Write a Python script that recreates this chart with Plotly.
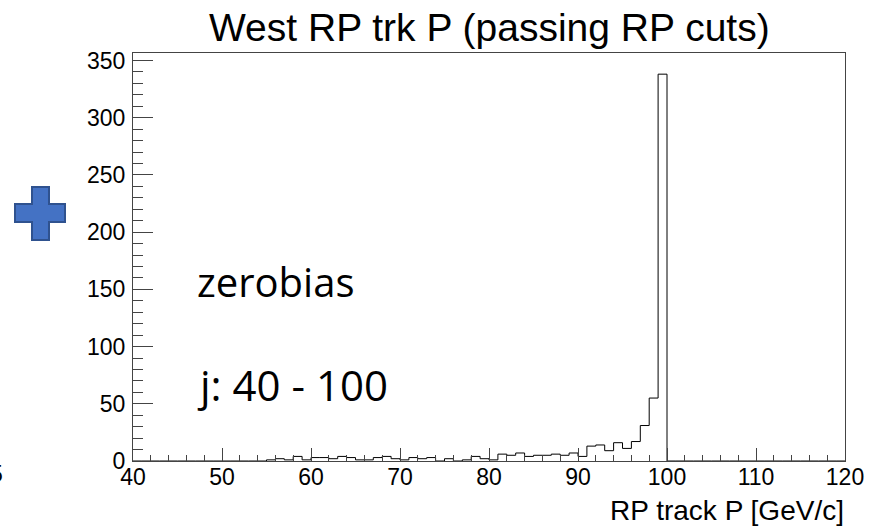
import plotly.graph_objects as go

# ---- data ----
bin_low_edges = list(range(40, 120))  # 1 GeV/c bins from 40 to 120
counts = (
    [0] * 15 +                                   # 40-54
    [1, 2, 1, 4, 1, 3, 3, 2, 4, 3, 1, 1, 3, 4, 2] +  # 55-69
    [1, 3, 2, 3, 0, 2, 0, 1, 4, 2] +             # 70-79
    [1, 6, 5, 7, 4, 5, 5, 6, 5, 7] +             # 80-89
    [4, 13, 14, 9, 16, 11, 17, 31, 55, 338] +    # 90-99
    [0] * 20                                     # 100-119
)
x_range = [40, 120]
y_range = [0, 356.5]
title_text = "West RP trk P (passing RP cuts)"
x_title = "RP track P [GeV/c]"
notes = ["zerobias", "j: 40 - 100"]

# ---- figure ----
W, H = 869, 526
L, R, T, B = 133, 24, 53, 65
PW, PH = W - L - R, H - T - B

def px(xp):
    return (xp - L) / PW

def py(yp):
    return (H - B - yp) / PH

edges = bin_low_edges + [bin_low_edges[-1] + 1]
step_y = counts + [counts[-1]]

fig = go.Figure()
fig.add_trace(go.Scatter(
    x=edges, y=step_y, mode="lines", line=dict(color="black", width=1, shape="hv"),
    hoverinfo="skip", showlegend=False,
))

axis_font = dict(family="Liberation Sans, Arial, sans-serif", size=23, color="black")

fig.update_xaxes(
    range=x_range, showgrid=False, zeroline=False, automargin=False,
    showline=True, linecolor="#444", linewidth=1, mirror=True,
    ticks="inside", ticklen=13, tickwidth=1, tickcolor="#444",
    dtick=10, tick0=40, tickfont=axis_font, ticklabeloverflow="allow",
    ticklabelstandoff=-5,
    minor=dict(ticks="inside", ticklen=6, dtick=2, tick0=40, tickcolor="#444", showgrid=False),
)
fig.update_yaxes(
    range=y_range, showgrid=False, zeroline=False, automargin=False,
    showline=True, linecolor="#444", linewidth=1, mirror=True,
    ticks="inside", ticklen=20, tickwidth=1, tickcolor="#444",
    dtick=50, tick0=0, tickfont=axis_font, ticklabelstandoff=2,
    minor=dict(ticks="inside", ticklen=10, dtick=10, tick0=0, tickcolor="#444", showgrid=False),
)

annotations = [
    dict(text=title_text, xref="paper", yref="paper", x=px(489), y=py(27),
         xanchor="center", yanchor="middle", showarrow=False,
         font=dict(family="Liberation Sans, Arial, sans-serif", size=39, color="black")),
    dict(text=x_title, xref="paper", yref="paper", x=px(846), y=py(510),
         xanchor="right", yanchor="middle", showarrow=False,
         font=dict(family="Liberation Sans, Arial, sans-serif", size=28, color="black")),
    dict(text=notes[0], xref="paper", yref="paper", x=px(195), y=py(281),
         xanchor="left", yanchor="middle", showarrow=False,
         font=dict(family="Open Sans, sans-serif", size=40, color="black")),
    dict(text=notes[1], xref="paper", yref="paper", x=px(195), y=py(384),
         xanchor="left", yanchor="middle", showarrow=False,
         font=dict(family="Open Sans, sans-serif", size=42, color="black")),
    dict(text="5", xref="paper", yref="paper", x=px(5), y=py(474),
         xanchor="right", yanchor="middle", showarrow=False,
         font=dict(family="Liberation Sans, Arial, sans-serif", size=23, color="black")),
]

# decorative blue cross (outside the plot area)
cx = [15, 32, 32, 49, 49, 65, 65, 49, 49, 32, 32, 15]
cy = [204, 204, 187, 187, 204, 204, 222, 222, 240, 240, 222, 222]
path = "M " + " L ".join(f"{px(a):.5f},{py(b):.5f}" for a, b in zip(cx, cy)) + " Z"

fig.update_layout(
    width=W, height=H,
    margin=dict(l=L, r=R, t=T, b=B, autoexpand=False),
    paper_bgcolor="white", plot_bgcolor="white",
    annotations=annotations,
    shapes=[dict(type="path", xref="paper", yref="paper", path=path,
                 fillcolor="#4472C4", line=dict(color="#2F528F", width=2), layer="above")],
)

fig.write_html("out.html")
